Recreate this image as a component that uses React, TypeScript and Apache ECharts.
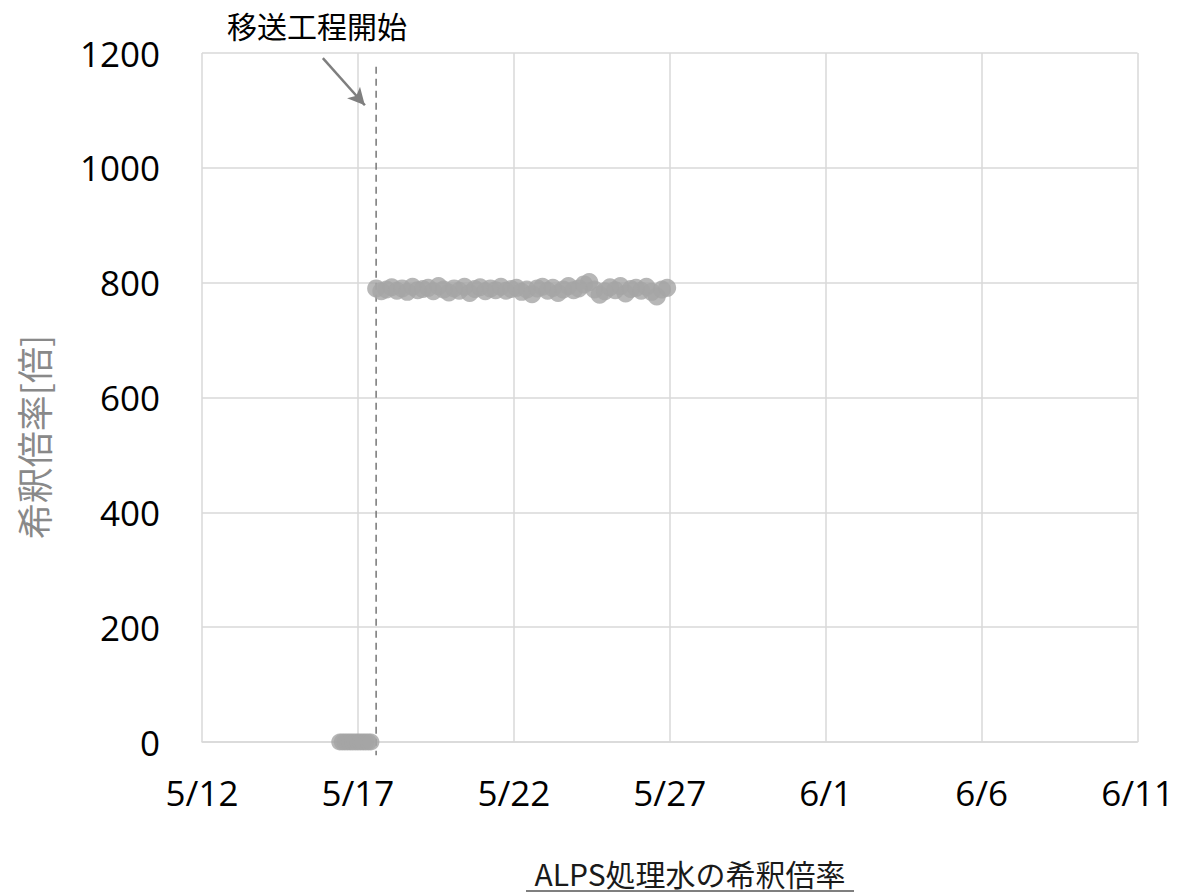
import React, { useEffect, useRef } from "react";
import * as echarts from "echarts";

// x tick labels (every 5 days from 5/12)
const xTickLabels = ["5/12", "5/17", "5/22", "5/27", "6/1", "6/6", "6/11"];
const yTicks = [0, 200, 400, 600, 800, 1000, 1200];

// Before the transfer process: dilution ratio 0
const zeroTimes = [
  "5/16 10:00", "5/16 12:00", "5/16 14:00", "5/16 16:00", "5/16 18:00", "5/16 20:00", "5/16 22:00",
  "5/17 00:00", "5/17 02:00", "5/17 04:00", "5/17 06:00", "5/17 08:00", "5/17 10:00",
];
const zeroValues = [0, 0, 0, 0, 0, 0, 0, 0, 0, 0, 0, 0, 0];

// After the transfer process started
const mainTimes = [
  "5/17 14:00", "5/17 18:00", "5/17 22:00",
  "5/18 02:00", "5/18 06:00", "5/18 10:00", "5/18 14:00", "5/18 18:00", "5/18 22:00",
  "5/19 02:00", "5/19 06:00", "5/19 10:00", "5/19 14:00", "5/19 18:00", "5/19 22:00",
  "5/20 02:00", "5/20 06:00", "5/20 10:00", "5/20 14:00", "5/20 18:00", "5/20 22:00",
  "5/21 02:00", "5/21 06:00", "5/21 10:00", "5/21 14:00", "5/21 18:00", "5/21 22:00",
  "5/22 02:00", "5/22 06:00", "5/22 10:00", "5/22 14:00", "5/22 18:00", "5/22 22:00",
  "5/23 02:00", "5/23 06:00", "5/23 10:00", "5/23 14:00", "5/23 18:00", "5/23 22:00",
  "5/24 02:00", "5/24 06:00", "5/24 10:00", "5/24 14:00", "5/24 18:00", "5/24 22:00",
  "5/25 02:00", "5/25 06:00", "5/25 10:00", "5/25 14:00", "5/25 18:00", "5/25 22:00",
  "5/26 02:00", "5/26 06:00", "5/26 10:00", "5/26 14:00", "5/26 18:00", "5/26 22:00",
];
const mainValues = [
  790, 785, 788,
  792, 786, 790, 784, 793, 787,
  789, 791, 785, 794, 788, 783,
  790, 786, 793, 782, 789, 792,
  785, 790, 787, 793, 786, 789,
  791, 784, 788, 780, 790, 793,
  786, 791, 782, 788, 794, 787,
  790, 797, 801, 788, 779, 785,
  792, 787, 794, 781, 789, 791,
  786, 793, 784, 776, 788, 791,
];

// Annotation: start of transfer process
const startLabel = "移送工程開始";
const startTime = "5/17 14:00";
const startLineTop = 1176;
const startLineBottom = -23;
const arrowFrom = { time: "5/15 21:00", value: 1191 };
const arrowTo = { time: "5/17 05:20", value: 1109 };

const yAxisTitle = "希釈倍率[倍]";
const xAxisTitle = "ALPS処理水の希釈倍率";

// convert "M/D HH:MM" into days since 5/12 00:00
function toDays(s: string): number {
  const [md, hm] = s.split(" ");
  const [m, d] = md.split("/").map(Number);
  const [h, mi] = (hm || "0:0").split(":").map(Number);
  const dayIndex = m === 5 ? d : 31 + d;
  return dayIndex - 12 + (h + mi / 60) / 24;
}

export default function App() {
  const ref = useRef<HTMLDivElement>(null);
  useEffect(() => {
    if (!ref.current) return;
    const chart = echarts.init(ref.current, undefined, { renderer: "svg" });
    const cjk = "'Noto Sans CJK JP', sans-serif";
    const num = "'Open Sans', sans-serif";
    const grid = "#d9d9d9";
    const dotColor = "#a5a5a5";
    const xs = toDays(startTime);
    chart.setOption({
      animation: false,
      grid: { left: 202, right: 39, top: 53, bottom: 153, containLabel: false },
      xAxis: {
        type: "value",
        min: 0,
        max: 30,
        interval: 5,
        axisLine: { show: true, lineStyle: { color: grid, width: 1.5 } },
        axisTick: { show: false },
        splitLine: { show: true, lineStyle: { color: grid, width: 1.5 } },
        axisLabel: {
          fontFamily: num,
          fontSize: 35,
          color: "#000",
          margin: 33,
          formatter: (v: number) => xTickLabels[Math.round(v / 5)] ?? "",
        },
      },
      yAxis: {
        type: "value",
        min: yTicks[0],
        max: yTicks[yTicks.length - 1],
        interval: 200,
        axisLine: { show: false },
        axisTick: { show: false },
        splitLine: { show: true, lineStyle: { color: grid, width: 1.5 } },
        axisLabel: {
          fontFamily: num,
          fontSize: 35,
          color: "#000",
          margin: 42,
          formatter: (v: number) => String(v),
        },
      },
      series: [
        {
          type: "line",
          data: [
            [xs, startLineTop],
            [xs, startLineBottom],
          ],
          clip: false,
          silent: true,
          symbol: "none",
          lineStyle: { color: "#767676", type: [7, 5], width: 1.5 },
          z: 1,
        },
        {
          type: "scatter",
          symbol: "circle",
          symbolSize: 17,
          itemStyle: { color: dotColor },
          data: zeroTimes.map((t, i) => [toDays(t), zeroValues[i]]),
          silent: true,
          z: 2,
        },
        {
          type: "scatter",
          symbol: "circle",
          symbolSize: 18,
          itemStyle: { color: dotColor },
          data: mainTimes.map((t, i) => [toDays(t), mainValues[i]]),
          silent: true,
          z: 2,
        },
        {
          type: "line",
          data: [],
          clip: false,
          silent: true,
          markLine: {
            silent: true,
            animation: false,
            label: { show: false },
            data: [
              [
                {
                  coord: [toDays(arrowFrom.time), arrowFrom.value],
                  symbol: "none",
                  lineStyle: { color: "#7f7f7f", type: "solid", width: 2.5 },
                },
                {
                  coord: [toDays(arrowTo.time), arrowTo.value],
                  symbol: "arrow",
                  symbolSize: [13, 17],
                },
              ],
            ],
          },
        },
      ],
      graphic: [
        {
          type: "text",
          x: 317,
          y: 25,
          style: {
            text: startLabel,
            font: `30px ${cjk}`,
            fill: "#000",
            textAlign: "center",
            textVerticalAlign: "middle",
          },
        },
        {
          type: "text",
          x: 33,
          y: 437,
          rotation: Math.PI / 2,
          style: {
            text: yAxisTitle,
            font: `36px ${cjk}`,
            fill: "#898989",
            textAlign: "center",
            textVerticalAlign: "middle",
          },
        },
        {
          type: "text",
          x: 690,
          y: 873,
          style: {
            text: xAxisTitle,
            font: `30px ${cjk}`,
            fill: "#1a1a1a",
            textAlign: "center",
            textVerticalAlign: "middle",
          },
        },
        {
          type: "line",
          shape: { x1: 526, y1: 891, x2: 854, y2: 891 },
          style: { stroke: "#555", lineWidth: 1.5 },
        },
      ],
    });
    return () => chart.dispose();
  }, []);
  return (
    <div
      ref={ref}
      style={{ position: "absolute", left: 0, top: 0, width: 1177, height: 895 }}
    />
  );
}
